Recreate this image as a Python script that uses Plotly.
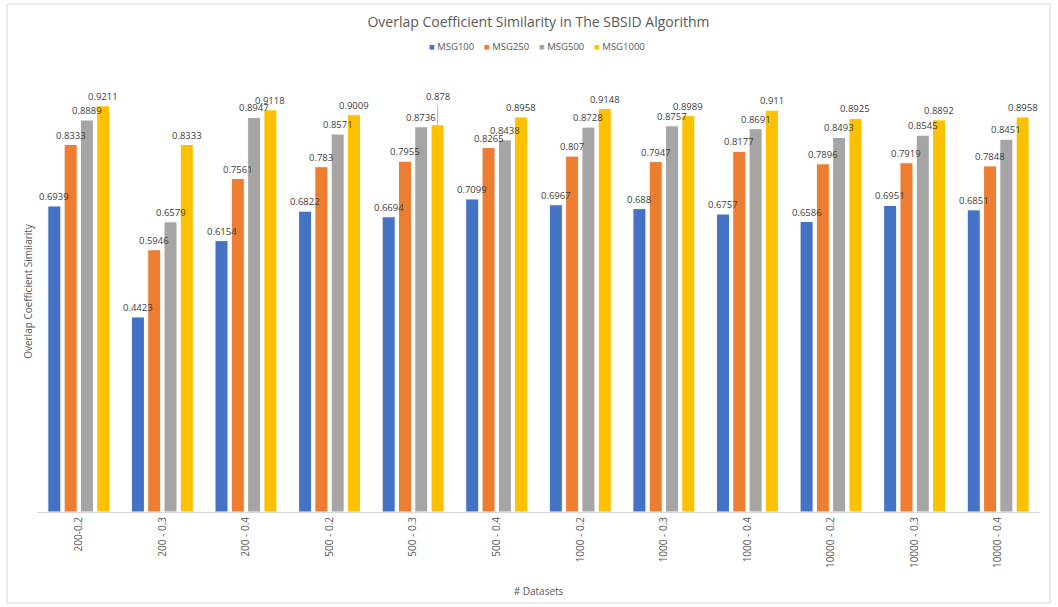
import plotly.graph_objects as go

categories = ["200-0.2", "200 - 0.3", "200 - 0.4", "500 - 0.2", "500 - 0.3", "500 - 0.4",
              "1000 - 0.2", "1000 - 0.3", "1000 - 0.4", "10000 - 0.2", "10000 - 0.3", "10000 - 0.4"]
msg100 = [0.6939, 0.4423, 0.6154, 0.6822, 0.6694, 0.7099, 0.6967, 0.688, 0.6757, 0.6586, 0.6951, 0.6851]
msg250 = [0.8333, 0.5946, 0.7561, 0.783, 0.7955, 0.8265, 0.807, 0.7947, 0.8177, 0.7896, 0.7919, 0.7848]
msg500 = [0.8889, 0.6579, 0.8947, 0.8571, 0.8736, 0.8438, 0.8728, 0.8757, 0.8691, 0.8493, 0.8545, 0.8451]
msg1000 = [0.9211, 0.8333, 0.9118, 0.9009, 0.878, 0.8958, 0.9148, 0.8989, 0.911, 0.8925, 0.8892, 0.8958]

series = [("MSG100", msg100, "#4472C4"), ("MSG250", msg250, "#ED7D31"),
          ("MSG500", msg500, "#A5A5A5"), ("MSG1000", msg1000, "#FFC000")]

FONT = "Open Sans"
LBL = dict(size=9.5, color="#404040", family=FONT)
L, R, T, B = 37, 18, 71, 95
W, H = 1058, 607
pw, ph = W - L - R, H - T - B
BARGAP, GROUPGAP = 0.22, 0.2
slot = pw / len(categories) * (1 - BARGAP) / len(series)

fig = go.Figure()
for si, (name, vals, col) in enumerate(series):
    fig.add_trace(go.Bar(
        name=name, x=categories, y=vals, showlegend=False,
        marker=dict(color=col, line=dict(color="white", width=1)),
    ))
    xs = (si - (len(series) - 1) / 2) * slot
    for ci, v in enumerate(vals):
        if name == "MSG1000" and ci == 4:
            # label lifted with a leader line
            fig.add_annotation(x=categories[ci], y=v, text=str(v), showarrow=True, arrowhead=0,
                               arrowwidth=0.8, arrowcolor="#A6A6A6", ax=0, ay=-20, xshift=xs,
                               yanchor="bottom", font=LBL)
        else:
            fig.add_annotation(x=categories[ci], y=v, text=str(v), showarrow=False, xshift=xs,
                               yanchor="bottom", yshift=1, font=LBL)

# legend drawn as text
legend_html = "&nbsp;&nbsp;&nbsp;&nbsp;".join(
    f"<span style='color:{c}'>■</span> {n}" for n, _, c in series)
fig.add_annotation(xref="paper", yref="paper", x=(537 - L) / pw, y=1 + (T - 47) / ph,
                   text=legend_html, showarrow=False, xanchor="center", yanchor="middle",
                   font=dict(size=9.5, color="#595959", family=FONT))

fig.add_shape(type="rect", xref="paper", yref="paper",
              x0=(7 - L) / pw, x1=(1050 - L) / pw, y0=(H - B - 603) / ph, y1=(H - B - 4) / ph,
              line=dict(color="#D9D9D9", width=1), layer="below")

fig.update_layout(
    width=W, height=H, barmode="group", bargap=BARGAP, bargroupgap=GROUPGAP,
    margin=dict(l=L, r=R, t=T, b=B), showlegend=False,
    paper_bgcolor="white", plot_bgcolor="white",
    font=dict(family=FONT, color="#595959"),
    title=dict(text="Overlap Coefficient Similarity in The SBSID Algorithm", x=0.5, xref="paper",
               y=1 - 22 / H, yanchor="middle", font=dict(size=14, color="#595959", family=FONT)),
    xaxis=dict(tickangle=-90, showline=True, linecolor="#D9D9D9", ticks="", tickfont=dict(size=10, color="#595959"),
               title=dict(text="# Datasets", font=dict(size=10, color="#595959"), standoff=20)),
    yaxis=dict(range=[0, 1], showgrid=False, showticklabels=False, zeroline=False, ticks="",
               title=dict(text="Overlap Coefficient Similarity", font=dict(size=10, color="#595959"), standoff=1)),
)

fig.write_html("out.html")
